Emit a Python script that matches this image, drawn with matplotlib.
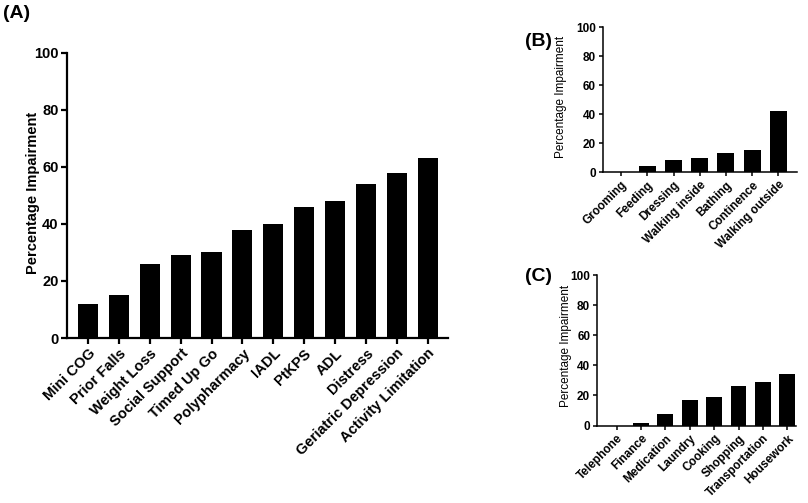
import numpy as np
import matplotlib
matplotlib.use("Agg")
from matplotlib import pyplot as plt

plt.rcParams['font.family'] = ['Liberation Sans', 'DejaVu Sans']

# panel A
a_labels = ['Mini COG', 'Prior Falls', 'Weight Loss', 'Social Support', 'Timed Up Go',
            'Polypharmacy', 'IADL', 'PtKPS', 'ADL', 'Distress',
            'Geriatric Depression', 'Activity Limitation']
a_values = [12, 15, 26, 29, 30, 38, 40, 46, 48, 54, 58, 63]

# panel B
b_labels = ['Grooming', 'Feeding', 'Dressing', 'Walking inside', 'Bathing',
            'Continence', 'Walking outside']
b_values = [0, 4, 8, 10, 13, 15, 42]

# panel C
c_labels = ['Telephone', 'Finance', 'Medication', 'Laundry', 'Cooking',
            'Shopping', 'Transportation', 'Housework']
c_values = [0, 2, 8, 17, 19, 26, 29, 34]

yticks = [0, 20, 40, 60, 80, 100]


def draw_panel(ax, labels, values, xlim, fs, ylab_fs, ylab_weight, ylab_pos, lw, ticklen):
    x = np.arange(len(labels))
    ax.bar(x, values, width=0.65, color='black')
    ax.set_xlim(*xlim)
    ax.set_ylim(0, 100)
    ax.set_yticks(yticks)
    ax.set_yticklabels([str(t) for t in yticks], fontsize=fs, fontweight='bold')
    ax.set_xticks(x)
    ax.set_xticklabels(labels, rotation=45, ha='right', rotation_mode='anchor',
                       fontsize=fs, fontweight='bold')
    ax.set_ylabel('Percentage Impairment', fontsize=ylab_fs, fontweight=ylab_weight,
                  va='center')
    ax.yaxis.set_label_coords(*ylab_pos)
    for s in ['top', 'right']:
        ax.spines[s].set_visible(False)
    for s in ['left', 'bottom']:
        ax.spines[s].set_linewidth(lw)
    ax.tick_params(axis='both', width=lw, length=ticklen, pad=2)


fig = plt.figure(figsize=(8.08, 5.03), dpi=100)

ax_a = fig.add_axes([0.083, 0.328, 0.471, 0.567])
draw_panel(ax_a, a_labels, a_values, (-0.68, 11.65), 10.5, 10.5, 'bold',
           (-0.09, 0.51), 1.6, 4)

ax_b = fig.add_axes([0.746, 0.658, 0.240, 0.288])
draw_panel(ax_b, b_labels, b_values, (-0.7, 6.7), 8.5, 8.5, 'normal',
           (-0.215, 0.52), 1.1, 3)

ax_c = fig.add_axes([0.739, 0.154, 0.246, 0.299])
draw_panel(ax_c, c_labels, c_values, (-0.8, 7.35), 8.5, 8.5, 'normal',
           (-0.155, 0.53), 1.1, 3)

fig.text(0.004, 0.99, '(A)', fontsize=14, fontweight='bold', va='top', ha='left')
fig.text(0.650, 0.935, '(B)', fontsize=14, fontweight='bold', va='top', ha='left')
fig.text(0.650, 0.468, '(C)', fontsize=14, fontweight='bold', va='top', ha='left')

fig.savefig('out.png', dpi=100)
